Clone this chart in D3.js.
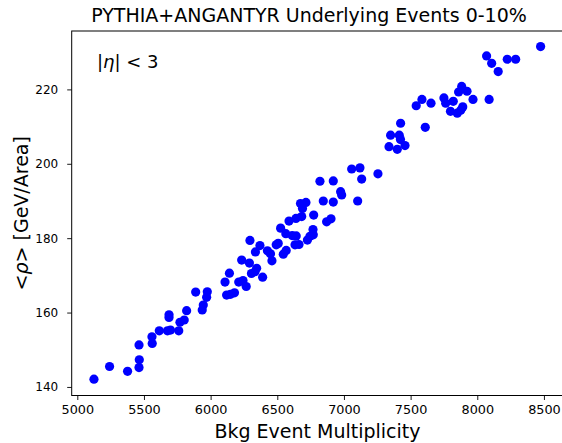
<!DOCTYPE html>
<html>
<head>
<meta charset="utf-8">
<script src="https://cdn.jsdelivr.net/npm/d3@7"></script>
<style>
  html, body { margin: 0; padding: 0; background: #fff; }
  svg { display: block; font-family: "DejaVu Sans", sans-serif; }
</style>
</head>
<body>
<svg id="chart" width="562" height="443"></svg>
<script>
// Bkg event multiplicity (x) and <rho> [GeV/Area] (y)
const multiplicity = [
  5125, 5242, 5377, 5463, 5465, 5463, 5562, 5560, 5615, 5676,
  5699, 5761, 5688, 5688, 5770, 5802, 5820, 5888, 5937, 5945,
  5970, 5975, 6120, 6149, 6179, 6108, 6141, 6211, 6243, 6267,
  6233, 6291, 6295, 6306, 6333, 6345, 6390, 6336, 6370, 6426,
  6449, 6460, 6492, 6507, 6525, 6545, 6567, 6564, 6588, 6612,
  6642, 6640, 6633, 6663, 6683, 6726, 6745, 6770, 6768, 6773,
  6674, 6715, 6689, 6870, 6903, 6820, 6920, 6975, 6983, 6845,
  6920, 7058, 7120, 7133, 7255, 7103, 7338, 7400, 7458, 7350,
  7415, 7424, 7425, 7610, 7542, 7585, 7653, 7750, 7763, 7820,
  7883, 7860, 7923, 7968, 8089, 7799, 7850, 7876, 7891, 8070,
  8108, 8225, 8288, 8157, 8475
];
const rho = [
  142.1, 145.5, 144.2, 145.2, 147.3, 151.3, 151.7, 153.5, 155.1, 155.1,
  155.3, 155.1, 159.4, 158.7, 157.4, 158.0, 160.5, 165.5, 160.7, 162.0,
  164.1, 165.6, 164.7, 164.9, 165.3, 168.2, 170.6, 168.2, 168.6, 167.0,
  174.1, 173.3, 179.4, 170.5, 171.0, 171.9, 169.5, 176.3, 178.0, 176.6,
  175.8, 173.9, 178.2, 178.6, 182.7, 175.7, 176.7, 181.2, 184.6, 180.7,
  180.6, 185.3, 178.2, 178.3, 185.8, 179.5, 180.5, 180.9, 182.3, 186.2,
  189.3, 189.6, 188.0, 184.4, 185.2, 195.3, 195.4, 192.5, 191.6, 190.0,
  189.7, 198.6, 198.9, 195.9, 197.3, 190.0, 204.6, 203.9, 204.9, 207.7,
  207.7, 206.5, 210.9, 209.8, 215.6, 217.3, 216.3, 217.7, 216.3, 216.8,
  220.8, 219.3, 219.5, 217.3, 217.3, 214.1, 213.6, 214.4, 215.3, 229.0,
  227.0, 228.1, 228.1, 224.8, 231.5
];
const xTicks = [5000, 5500, 6000, 6500, 7000, 7500, 8000, 8500];
const yTicks = [140, 160, 180, 200, 220];
const titleText = "PYTHIA+ANGANTYR Underlying Events 0-10%";
const xLabelText = "Bkg Event Multiplicity";

(function () {
const svg = d3.select("#chart");
const pLeft = 71.7, pRight = 563, pTop = 31, pBottom = 395.5;

const x = d3.scaleLinear().domain([4958, 8643]).range([pLeft, pRight]);
const y = d3.scaleLinear().domain([137.7, 235.7]).range([pBottom, pTop]);

// points
svg.append("g").selectAll("circle")
  .data(multiplicity.map((m, i) => [m, rho[i]]))
  .join("circle")
  .attr("cx", d => x(d[0]))
  .attr("cy", d => y(d[1]))
  .attr("r", 4.6)
  .attr("fill", "#0000ff");

// frame
svg.append("rect")
  .attr("x", pLeft).attr("y", pTop)
  .attr("width", pRight - pLeft).attr("height", pBottom - pTop)
  .attr("fill", "none").attr("stroke", "#000").attr("stroke-width", 1);

// axes
const xAxis = d3.axisBottom(x).tickValues(xTicks).tickSize(4.5).tickPadding(4.5).tickFormat(d3.format("d"));
const yAxis = d3.axisLeft(y).tickValues(yTicks).tickSize(4.5).tickPadding(9).tickFormat(d3.format("d"));

const gx = svg.append("g").attr("transform", `translate(0,${pBottom})`).call(xAxis);
const gy = svg.append("g").attr("transform", `translate(${pLeft},0)`).call(yAxis);
[gx, gy].forEach(g => {
  g.select(".domain").remove();
  g.selectAll("line").attr("stroke", "#000").attr("stroke-width", 0.9);
  g.selectAll("text").attr("fill", "#000").style("font-family", "DejaVu Sans");
});
gx.selectAll("text").style("font-size", "12.8px");
gy.selectAll("text").style("font-size", "12px");

// title
svg.append("text")
  .attr("x", 309).attr("y", 22)
  .attr("text-anchor", "middle")
  .style("font-size", "19px")
  .text(titleText);

// x label
svg.append("text")
  .attr("x", 317.5).attr("y", 438)
  .attr("text-anchor", "middle")
  .style("font-size", "19px")
  .text(xLabelText);

// y label
const yl = svg.append("text")
  .attr("transform", `translate(28,${(pTop + pBottom) / 2}) rotate(-90)`)
  .attr("text-anchor", "middle")
  .style("font-size", "19px");
yl.append("tspan").text("<");
yl.append("tspan").style("font-style", "italic").text("ρ");
yl.append("tspan").text("> [GeV/Area]");

// annotation |eta| < 3
const ann = svg.append("text")
  .attr("x", 97).attr("y", 68)
  .style("font-size", "18px");
ann.append("tspan").text("|");
ann.append("tspan").style("font-style", "italic").text("η");
ann.append("tspan").text("| < 3");
})();
</script>
</body>
</html>
